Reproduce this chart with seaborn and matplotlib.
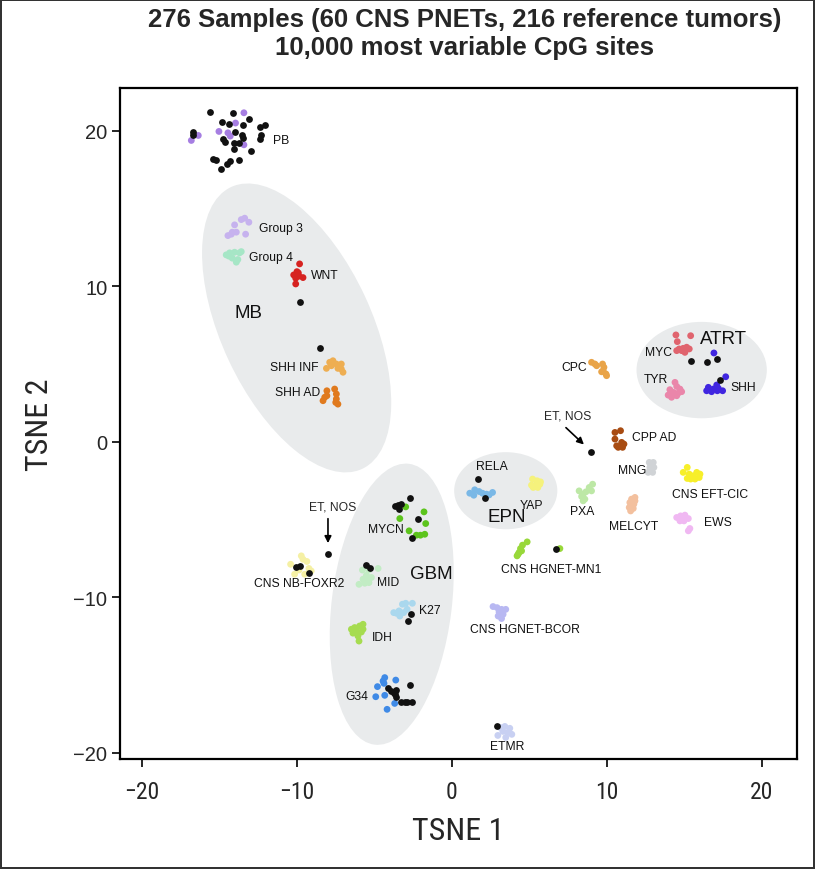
import pandas as pd
import matplotlib
matplotlib.use("Agg")
import matplotlib.pyplot as plt
from matplotlib import font_manager
import seaborn as sns
from matplotlib.patches import Ellipse

# t-SNE coordinates, one pair of lists per methylation class
PB_X = [-13.40, -13.94, -15.01, -14.43, -14.28, -16.34, -16.79, -13.40]
PB_Y = [21.15, 20.49, 19.95, 19.86, 19.65, 19.69, 19.37, 19.09]
G3_X = [-14.00, -13.57, -13.35, -13.08, -14.15, -14.43, -14.21, -13.29, -13.89]
G3_Y = [13.94, 14.28, 14.37, 14.11, 13.47, 13.25, 13.34, 13.34, 13.47]
G4_X = [-14.54, -14.32, -14.00, -13.68, -14.15, -13.89, -13.79, -14.37, -13.57]
G4_Y = [12.01, 12.14, 12.18, 12.14, 11.80, 11.54, 11.71, 11.93, 12.22]
WNT_X = [-9.81, -9.98, -10.19, -10.06, -9.85, -9.59, -9.98, -10.06, -9.89]
WNT_Y = [11.43, 10.93, 10.72, 10.51, 10.64, 10.55, 10.79, 10.14, 10.85]
SHHINF_X = [-7.87, -7.66, -7.44, -7.12, -7.12, -7.01, -7.34, -8.08, -7.76, -7.23]
SHHINF_Y = [5.10, 5.20, 4.99, 4.99, 4.67, 4.46, 4.71, 4.71, 4.88, 4.84]
SHHAD_X = [-8.05, -7.55, -7.44, -8.19, -8.30, -7.44, -7.34, -7.48, -8.05]
SHHAD_Y = [3.27, 3.38, 3.06, 2.85, 2.63, 2.74, 2.41, 2.52, 2.95]
MYC_X = [14.45, 15.40, 14.54, 14.66, 14.92, 15.14, 15.31, 15.03, 14.82, 14.50]
MYC_Y = [6.86, 6.81, 6.43, 5.96, 6.00, 6.07, 5.96, 5.74, 5.85, 5.85]
TYR_X = [14.39, 14.50, 14.06, 14.28, 14.60, 14.82, 14.17, 14.50, 13.95, 14.71]
TYR_Y = [3.81, 3.55, 3.34, 3.17, 3.12, 3.21, 2.85, 2.95, 2.99, 3.38]
ATRTSHH_X = [16.90, 17.66, 17.08, 16.54, 16.43, 16.75, 17.12, 17.46, 17.18, 16.86]
ATRTSHH_Y = [5.70, 4.17, 3.64, 3.49, 3.27, 3.21, 3.27, 3.27, 3.43, 3.38]
CPC_X = [9.01, 9.23, 9.34, 9.72, 9.81, 9.76, 9.94, 9.98, 9.66]
CPC_Y = [5.10, 4.99, 4.88, 4.99, 4.78, 4.56, 4.35, 4.24, 4.49]
CPPAD_X = [10.52, 10.88, 10.52, 10.63, 10.95, 11.10, 10.73, 11.01]
CPPAD_Y = [0.59, 0.70, 0.16, -0.27, -0.05, -0.16, -0.37, -0.37]
MNG_X = [12.73, 12.99, 12.77, 13.03, 12.66, 12.95, 12.82]
MNG_Y = [-1.34, -1.34, -1.66, -1.66, -1.98, -1.98, -1.82]
EFTCIC_X = [15.18, 14.92, 15.31, 15.57, 15.79, 16.00, 15.40, 15.68, 15.95, 15.18]
EFTCIC_Y = [-1.66, -1.98, -2.09, -2.20, -1.98, -2.09, -2.41, -2.41, -2.31, -2.37]
PXA_X = [9.08, 8.86, 9.01, 8.65, 8.47, 8.37, 8.58, 8.47, 8.21]
PXA_Y = [-2.74, -2.95, -3.17, -3.23, -3.38, -3.53, -3.70, -3.81, -3.17]
MELCYT_X = [11.81, 11.59, 11.48, 11.74, 11.44, 11.70, 11.53, 11.81]
MELCYT_Y = [-3.59, -3.70, -3.92, -4.02, -4.24, -4.30, -4.46, -3.81]
EWS_X = [14.50, 14.75, 15.03, 15.25, 14.97, 14.71, 15.35, 15.25]
EWS_Y = [-4.88, -4.78, -4.73, -4.95, -5.10, -5.10, -5.59, -5.74]
RELA_X = [1.16, 1.48, 1.76, 1.98, 2.24, 2.63, 2.41, 1.42]
RELA_Y = [-3.32, -3.10, -3.21, -3.32, -3.38, -3.27, -3.43, -3.45]
YAP_X = [5.21, 5.50, 5.72, 5.14, 5.42, 5.68, 5.25, 5.55]
YAP_Y = [-2.41, -2.52, -2.59, -2.80, -2.80, -2.74, -2.95, -2.95]
MYCN_X = [-2.97, -1.79, -3.35, -1.68, -2.75, -2.28, -2.02, -1.74]
MYCN_Y = [-4.20, -4.52, -4.95, -5.27, -5.74, -6.02, -6.02, -5.96]
FOXR2_X = [-10.39, -9.70, -9.59, -9.34, -9.85, -10.13, -9.48, -9.21, -9.06]
FOXR2_Y = [-7.89, -7.35, -7.57, -7.71, -8.26, -8.53, -8.53, -8.16, -8.32]
MID_X = [-5.76, -5.34, -4.75, -5.50, -5.72, -5.40, -5.98, -5.61, -5.34, -5.18]
MID_Y = [-8.26, -8.26, -8.16, -8.60, -8.85, -8.81, -9.18, -9.11, -9.07, -8.74]
K27_X = [-3.18, -2.97, -2.54, -3.40, -3.57, -3.35, -3.10, -2.88, -3.74]
K27_Y = [-10.46, -10.40, -10.40, -10.89, -11.04, -11.22, -11.00, -10.79, -11.00]
IDH_X = [-6.47, -6.26, -5.94, -5.72, -6.15, -5.83, -6.05, -5.98, -6.37, -5.72]
IDH_Y = [-12.07, -11.96, -11.86, -11.75, -12.18, -12.25, -12.50, -12.83, -12.32, -12.07]
G34_X = [-4.32, -3.61, -4.79, -4.37, -4.90, -4.32, -3.68, -4.17, -4.43]
G34_Y = [-15.18, -15.34, -15.76, -15.55, -16.41, -16.32, -16.84, -17.22, -15.40]
MN1_X = [4.86, 4.56, 4.43, 4.34, 4.21, 4.50, 4.28, 6.97]
MN1_Y = [-6.45, -6.66, -6.88, -7.13, -7.35, -7.03, -7.24, -6.88]
BCOR_X = [2.66, 2.92, 3.21, 3.48, 3.05, 3.31, 3.21, 2.99]
BCOR_Y = [-10.61, -10.68, -10.79, -10.79, -10.96, -11.11, -11.38, -11.22]
ETMR_X = [3.10, 3.42, 3.74, 3.29, 3.61, 2.97, 3.48, 3.87]
ETMR_Y = [-18.38, -18.32, -18.44, -18.64, -18.71, -18.90, -19.03, -18.83]

# the CNS PNET samples (black dots)
PNET_X = [-15.57, -14.11, -14.82, -14.39, -13.46, -13.08, -12.39, -12.05, -16.69, -16.65,
          -14.00, -13.50, -13.46, -14.75, -14.65, -14.06, -13.74, -14.05, -12.39, -12.30,
          -12.97, -15.40, -15.18, -14.32, -14.50, -13.72, -14.88,
          -9.76, -8.47,
          15.40, 16.47, 17.08, 17.29,
          8.95,
          1.66, 2.13,
          6.71,
          -2.71, -3.68, -3.46, -3.25, -3.40, -2.17, -2.54,
          -7.95,
          -10.02, -9.81, -9.21,
          -5.55, -5.29,
          -2.65, -2.82,
          -4.11, -3.89, -3.61, -3.74, -3.57, -2.71, -3.25, -3.03, -2.88, -2.54, -3.68,
          2.92]
PNET_Y = [21.20, 21.15, 20.53, 20.43, 20.34, 20.77, 20.23, 20.38, 19.91, 19.74,
          19.91, 19.74, 19.52, 19.48, 19.27, 19.20, 19.22, 18.79, 19.48, 19.69,
          18.71, 18.19, 18.14, 18.08, 17.87, 18.13, 17.54,
          8.96, 6.00,
          5.20, 5.10, 5.31, 3.96,
          -0.66,
          -2.41, -3.66,
          -6.88,
          -3.64, -4.17, -4.09, -4.02, -4.35, -4.99, -6.17,
          -7.20,
          -8.04, -8.00, -8.42,
          -7.95, -8.10,
          -11.06, -11.54,
          -15.87, -16.05, -16.00, -16.19, -16.41, -15.68, -16.73, -16.73, -16.73, -16.73, -16.26,
          -18.30]

groups = [
    ("PB", PB_X, PB_Y, "#a67ee2"),
    ("Group 3", G3_X, G3_Y, "#c6b2ee"),
    ("Group 4", G4_X, G4_Y, "#a6e6c6"),
    ("WNT", WNT_X, WNT_Y, "#d62220"),
    ("SHH INF", SHHINF_X, SHHINF_Y, "#eeae52"),
    ("SHH AD", SHHAD_X, SHHAD_Y, "#e07a1e"),
    ("MYC", MYC_X, MYC_Y, "#e0646e"),
    ("TYR", TYR_X, TYR_Y, "#ea86aa"),
    ("ATRT SHH", ATRTSHH_X, ATRTSHH_Y, "#4026e0"),
    ("CPC", CPC_X, CPC_Y, "#e9a448"),
    ("CPP AD", CPPAD_X, CPPAD_Y, "#a84c12"),
    ("MNG", MNG_X, MNG_Y, "#d0d3d6"),
    ("CNS EFT-CIC", EFTCIC_X, EFTCIC_Y, "#f7ef2a"),
    ("PXA", PXA_X, PXA_Y, "#bde8a6"),
    ("MELCYT", MELCYT_X, MELCYT_Y, "#f3c09e"),
    ("EWS", EWS_X, EWS_Y, "#f0b8f2"),
    ("RELA", RELA_X, RELA_Y, "#7ab8e6"),
    ("YAP", YAP_X, YAP_Y, "#f5f27c"),
    ("MYCN", MYCN_X, MYCN_Y, "#5cc41c"),
    ("CNS NB-FOXR2", FOXR2_X, FOXR2_Y, "#f5f0a4"),
    ("MID", MID_X, MID_Y, "#c2ecc4"),
    ("K27", K27_X, K27_Y, "#aad8ee"),
    ("IDH", IDH_X, IDH_Y, "#a6dc50"),
    ("G34", G34_X, G34_Y, "#3f8ae6"),
    ("CNS HGNET-MN1", MN1_X, MN1_Y, "#98d83a"),
    ("CNS HGNET-BCOR", BCOR_X, BCOR_Y, "#b8b8f2"),
    ("ETMR", ETMR_X, ETMR_Y, "#c8d0f2"),
]

df = pd.concat([pd.DataFrame({"TSNE1": gx, "TSNE2": gy, "group": name})
                for name, gx, gy, _ in groups], ignore_index=True)
palette = {name: col for name, _, _, col in groups}

sns.set_style("ticks")
plt.rcParams["font.family"] = ["Liberation Sans", "DejaVu Sans"]

# axis titles in the original use a condensed face; take one if installed
installed = {f.name for f in font_manager.fontManager.ttflist}
narrow_name = None
for cand in ["Liberation Sans Narrow", "Roboto Condensed", "Open Sans Condensed",
             "Noto Sans Condensed", "DejaVu Sans Condensed"]:
    if cand in installed:
        narrow_name = cand
        break
if narrow_name:
    narrow = dict(family=[narrow_name, "DejaVu Sans"])
    xl_size, xt_size = 23, 17
else:
    narrow = dict(family=["Roboto", "DejaVu Sans"])
    xl_size, xt_size = 21, 15

fig = plt.figure(figsize=(8.15, 8.7), dpi=100)
ax = fig.add_axes([0.147, 0.126, 0.831, 0.772])

# grey ellipses marking the tumour families: centre, width, height, angle
blobs = [(-10.0, 7.31, 20.0, 9.7, -65),
         (16.11, 4.60, 8.4, 6.2, 0),
         (3.48, -3.16, 6.65, 4.96, 0),
         (-3.87, -10.46, 18.2, 7.74, 83)]
for cx, cy, w, h, ang in blobs:
    ax.add_patch(Ellipse((cx, cy), w, h, angle=ang, facecolor="#e9ebec",
                         edgecolor="none", zorder=1))

sns.scatterplot(data=df, x="TSNE1", y="TSNE2", hue="group", palette=palette,
                s=24, linewidth=0, legend=False, ax=ax, zorder=3)
sns.scatterplot(x=PNET_X, y=PNET_Y, color="#111111", s=24, linewidth=0,
                ax=ax, zorder=4)

# cluster labels
small = 8.7
big = 13.5
labels = [
    ("PB", -11.5, 19.4, "left", small), ("Group 3", -12.45, 13.75, "left", small),
    ("Group 4", -13.1, 11.9, "left", small), ("WNT", -9.05, 10.72, "left", small),
    ("MB", -14.0, 8.3, "left", big), ("SHH INF", -8.62, 4.78, "right", small),
    ("SHH AD", -8.47, 3.17, "right", small), ("ATRT", 16.0, 6.64, "left", big),
    ("MYC", 14.17, 5.78, "right", small), ("TYR", 13.95, 4.02, "right", small),
    ("SHH", 17.94, 3.49, "left", small), ("CPC", 8.73, 4.78, "right", small),
    ("CPP AD", 11.63, 0.27, "left", small), ("MNG", 12.56, -1.82, "right", small),
    ("CNS EFT-CIC", 14.2, -3.35, "left", small), ("PXA", 7.61, -4.46, "left", small),
    ("MELCYT", 11.74, -5.42, "center", small), ("EWS", 16.26, -5.2, "left", small),
    ("RELA", 1.55, -1.6, "left", small), ("YAP", 4.4, -4.05, "left", small),
    ("EPN", 2.3, -4.8, "left", big), ("MYCN", -3.1, -5.63, "right", small),
    ("CNS NB-FOXR2", -9.81, -9.11, "center", small), ("MID", -4.79, -9.0, "left", small),
    ("GBM", -2.71, -8.49, "left", big), ("K27", -2.11, -10.85, "left", small),
    ("IDH", -5.18, -12.57, "left", small), ("G34", -5.4, -16.37, "right", small),
    ("CNS HGNET-MN1", 6.43, -8.17, "center", small),
    ("CNS HGNET-BCOR", 4.71, -12.07, "center", small),
    ("ETMR", 3.55, -19.6, "center", small),
]
for txt, lx, ly, ha, fs in labels:
    ax.text(lx, ly, txt, ha=ha, va="center", fontsize=fs, color="#111111", zorder=5)

# unclassified samples pointed at with arrows
ax.text(7.5, 1.71, "ET, NOS", ha="center", va="center", fontsize=small, zorder=5)
ax.annotate("", xy=(8.65, -0.31), xytext=(7.23, 1.02),
            arrowprops=dict(arrowstyle="-|>", color="black", lw=1.2, mutation_scale=10))
ax.text(-7.66, -4.17, "ET, NOS", ha="center", va="center", fontsize=small, zorder=5)
ax.annotate("", xy=(-7.98, -6.71), xytext=(-7.98, -4.78),
            arrowprops=dict(arrowstyle="-|>", color="black", lw=1.2, mutation_scale=10))

ax.set_xlim(-21.4, 22.26)
ax.set_ylim(-20.44, 22.76)
ax.set_xticks([-20, -10, 0, 10, 20])
ax.set_yticks([-20, -10, 0, 10, 20])
for s in ax.spines.values():
    s.set_linewidth(1.6)
    s.set_color("black")
ax.tick_params(direction="out", length=6, width=1.2, color="black")
ax.tick_params(axis="y", labelsize=14.5, pad=3)
ax.tick_params(axis="x", labelsize=xt_size, pad=9)
for t in ax.get_xticklabels():
    t.set_family(narrow["family"])
ax.set_xlabel("TSNE 1", fontsize=xl_size, labelpad=9, **narrow)
ax.set_ylabel("TSNE 2", fontsize=xl_size, labelpad=14, **narrow)

fig.text(0.57, 0.977, "276 Samples (60 CNS PNETs, 216 reference tumors)",
         ha="center", va="center", fontsize=18.5, fontweight="bold")
fig.text(0.57, 0.945, "10,000 most variable CpG sites",
         ha="center", va="center", fontsize=18.5, fontweight="bold")

fig.patch.set_edgecolor("#333333")
fig.patch.set_linewidth(1.5)
fig.savefig("out.png", dpi=100, edgecolor=fig.get_edgecolor())
